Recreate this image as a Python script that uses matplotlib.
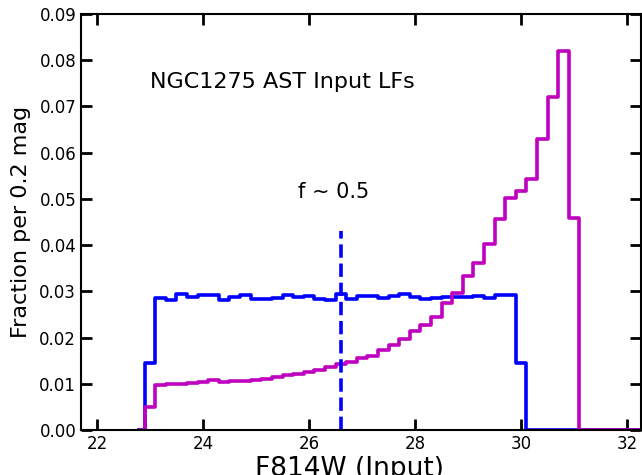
import numpy as np
import matplotlib
matplotlib.use('Agg')
import matplotlib.pyplot as plt

# bin centres (0.2 mag bins), first/last bins are empty padding
centers = np.round(np.arange(22.8, 32.61, 0.2), 1)

# known-star AST input LF (flat)
flat_lf = [
    0.0, 0.0145, 0.0285, 0.0281, 0.0295, 0.0287, 0.0291, 0.0291, 0.0281,
    0.0287, 0.0292, 0.0283, 0.0284, 0.0285, 0.0292, 0.0287, 0.0289, 0.0283,
    0.0282, 0.0294, 0.0284, 0.0290, 0.0289, 0.0285, 0.0290, 0.0294, 0.0288,
    0.0283, 0.0285, 0.0287, 0.0287, 0.0287, 0.0290, 0.0285, 0.0292, 0.0292,
    0.0145,
]
# rising input LF
rising_lf = [
    0.0, 0.0049, 0.0097, 0.0099, 0.0100, 0.0102, 0.0103, 0.0108, 0.0103,
    0.0106, 0.0107, 0.0109, 0.0110, 0.0114, 0.0118, 0.0122, 0.0125, 0.0130,
    0.0136, 0.0142, 0.0148, 0.0155, 0.0161, 0.0172, 0.0183, 0.0197, 0.0215,
    0.0228, 0.0245, 0.0274, 0.0296, 0.0334, 0.0362, 0.0402, 0.0457, 0.0501,
    0.0518, 0.0543, 0.0630, 0.0721, 0.0820, 0.0459,
]

f50_mag = 26.6
f50_top = 0.043

flat = np.zeros(len(centers))
flat[:len(flat_lf)] = flat_lf
rising = np.zeros(len(centers))
rising[:len(rising_lf)] = rising_lf

fig = plt.figure(figsize=(6.42, 4.75), dpi=100)
ax = fig.add_axes([81 / 642, 45 / 475, 560 / 642, 416 / 475])

ax.plot(centers, flat, drawstyle='steps-mid', color='b', linewidth=2.6)
ax.plot(centers, rising, drawstyle='steps-mid', color='m', linewidth=2.6)
ax.plot([f50_mag, f50_mag], [0, f50_top], color='b', linestyle='--', linewidth=2.6)

ax.text(23.0, 0.0753, 'NGC1275 AST Input LFs', fontsize=16, va='center')
ax.text(25.8, 0.0515, 'f ~ 0.5', fontsize=15, va='center')

ax.set_xlim(21.7, 32.26)
ax.set_ylim(0, 0.09)
ax.set_xticks(np.arange(22, 33, 2))
ax.set_yticks(np.arange(0, 0.091, 0.01))
ax.yaxis.set_major_formatter(matplotlib.ticker.FormatStrFormatter('%.2f'))
ax.tick_params(direction='in', length=8, width=2, labelsize=12,
               top=True, right=True)
for s in ax.spines.values():
    s.set_linewidth(1.5)

# label runs off the bottom edge, as in the original
ax.set_xlabel('F814W (Input)', fontsize=19, labelpad=2)
ax.xaxis.set_label_coords(0.48, -0.062, transform=ax.transAxes)
ax.xaxis.label.set_va('top')
ax.set_ylabel('Fraction per 0.2 mag', fontsize=16, labelpad=6)

fig.savefig('out.png', dpi=100)
